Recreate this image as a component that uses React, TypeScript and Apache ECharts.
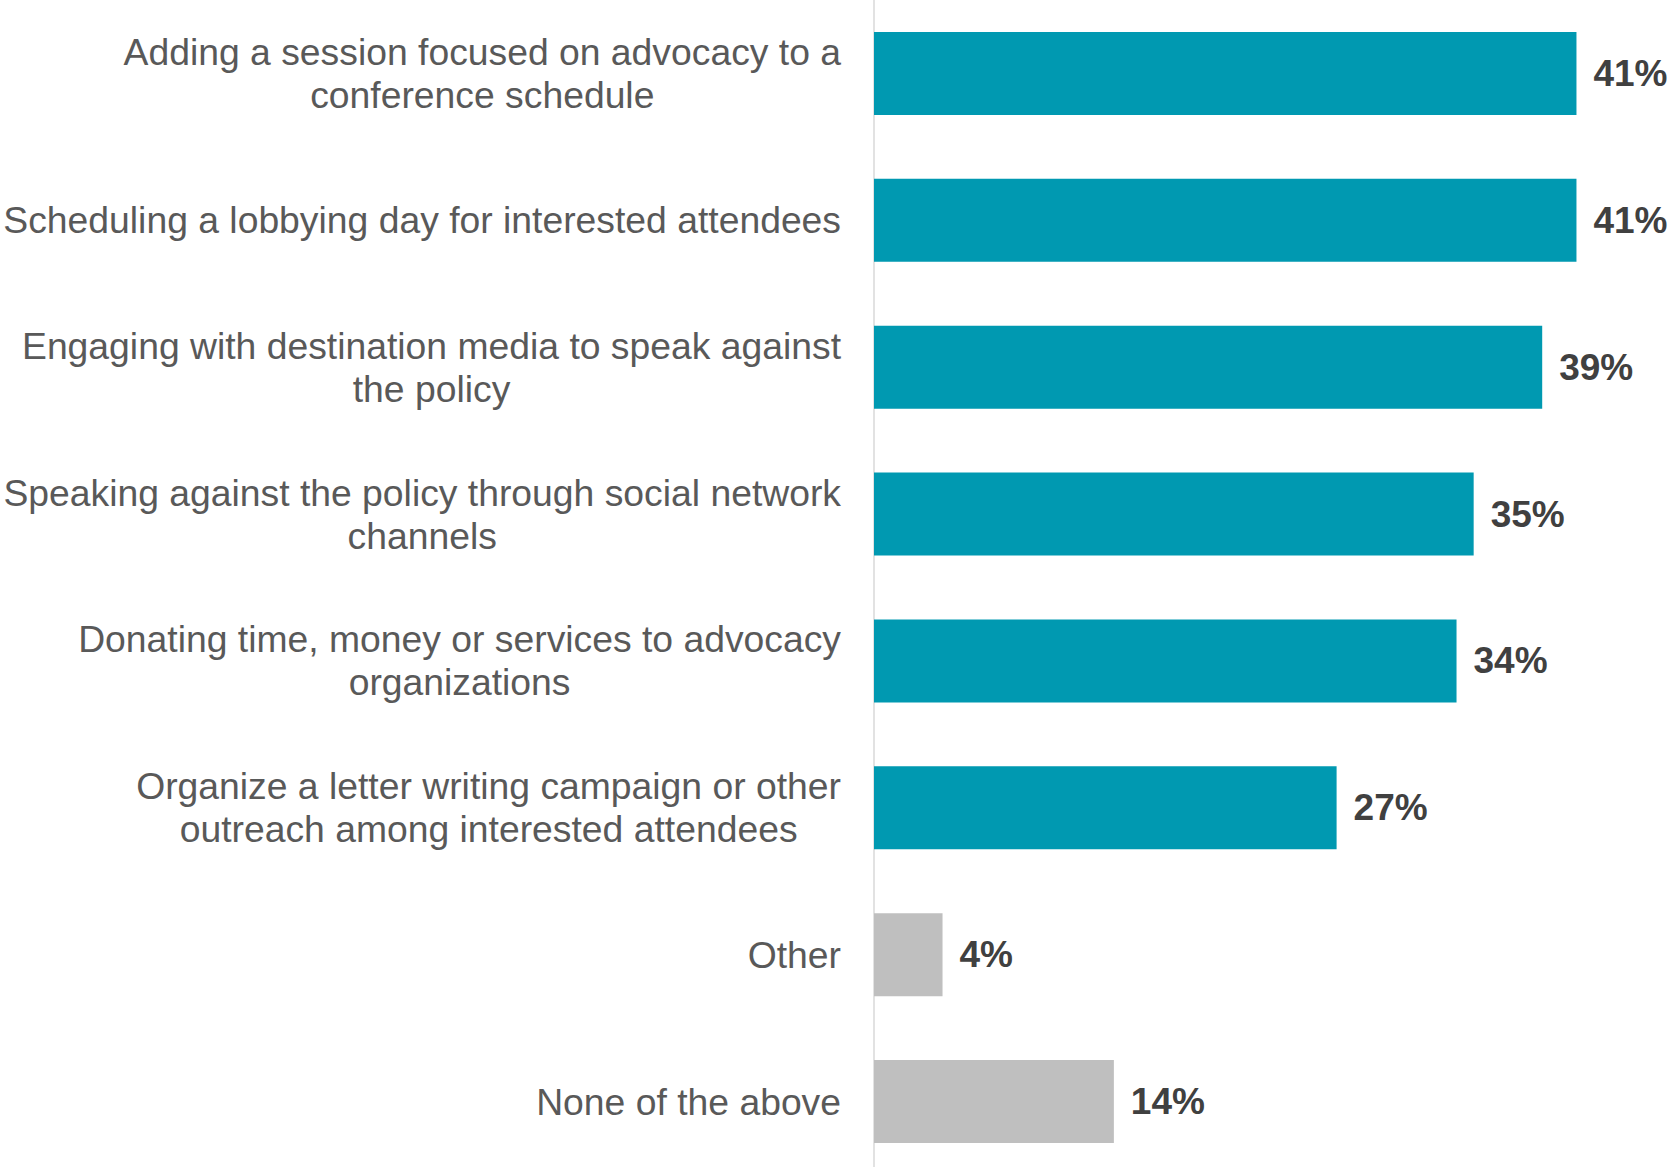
import React, { useEffect, useRef } from "react";
import * as echarts from "echarts";

// Survey responses, listed top to bottom
const categories: string[] = [
  "Adding a session focused on advocacy to a\nconference schedule",
  "Scheduling a lobbying day for interested attendees",
  "Engaging with destination media to speak against\nthe policy",
  "Speaking against the policy through social network\nchannels",
  "Donating time, money or services to advocacy\norganizations",
  "Organize a letter writing campaign or other\noutreach among interested attendees",
  "Other",
  "None of the above",
];

// Share of respondents (%)
const values: number[] = [41, 41, 39, 35, 34, 27, 4, 14];

// Which rows are the neutral (grey) answers
const neutral: boolean[] = [false, false, false, false, false, false, true, true];

const FONT = "Arial, 'Liberation Sans', Helvetica, sans-serif";
const TEAL = "#0099b1";
const GREY = "#bfbfbf";

export default function App() {
  const ref = useRef<HTMLDivElement>(null);

  useEffect(() => {
    document.body.style.margin = "0";
    document.body.style.overflow = "hidden";
    document.documentElement.style.overflow = "hidden";
    if (!ref.current) return;
    const chart = echarts.init(ref.current, undefined, { renderer: "svg" });

    chart.setOption({
      animation: false,
      backgroundColor: "#ffffff",
      grid: { left: 874, top: 0, bottom: 0, right: 30, containLabel: false },
      xAxis: {
        type: "value",
        min: 0,
        max: 45,
        show: false,
      },
      yAxis: {
        type: "category",
        inverse: true,
        data: categories,
        axisLine: { show: true, lineStyle: { color: "#d9d9d9", width: 1.5 } },
        axisTick: { show: false },
        splitLine: { show: false },
        axisLabel: {
          align: "right",
          margin: 33,
          formatter: (v: string) =>
            v
              .split("\n")
              .map((line) => `{c|${line}}`)
              .join("\n"),
          rich: {
            c: {
              align: "center",
              fontSize: 37.3,
              lineHeight: 43,
              color: "#595959",
              fontFamily: FONT,
            },
          },
        },
      },
      series: [
        {
          type: "bar",
          barWidth: 83,
          data: values.map((v, i) => ({
            value: v,
            itemStyle: { color: neutral[i] ? GREY : TEAL },
          })),
          label: {
            show: true,
            position: "right",
            distance: 17,
            formatter: "{c}%",
            fontSize: 37,
            fontWeight: "bold",
            color: "#404040",
            fontFamily: FONT,
          },
        },
      ],
    });

    return () => chart.dispose();
  }, []);

  return <div ref={ref} style={{ width: 1675, height: 1175 }} />;
}
